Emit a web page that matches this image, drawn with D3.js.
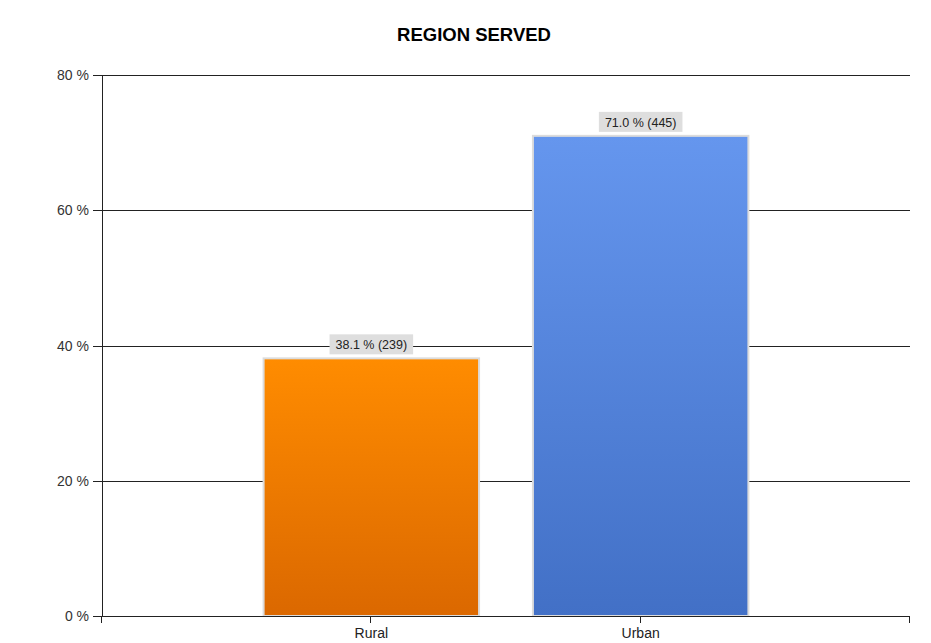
<!DOCTYPE html>
<html>
<head>
<meta charset="utf-8">
<script src="https://cdn.jsdelivr.net/npm/d3@7"></script>
<style>
  body { margin: 0; background: #fff; }
  text { font-family: "Liberation Sans", Arial, sans-serif; }
</style>
</head>
<body>
<div id="chart"></div>
<script>
// chart data
var categories = ["Rural", "Urban"];
var percents = [38.1, 71.0];
var counts = [239, 445];
var yTicks = [0, 20, 40, 60, 80];
var barColors = [["#ff8c00", "#db6800"], ["#6596ee", "#4270c6"]];

var W = 931, H = 643;
var margin = {top: 75, right: 21, bottom: 27, left: 102},
    width = W - margin.left - margin.right,
    height = H - margin.top - margin.bottom;

var svg = d3.select("#chart").append("svg")
    .attr("width", W).attr("height", H);

var defs = svg.append("defs");
barColors.forEach(function(c, i) {
  var g = defs.append("linearGradient").attr("id", "grad" + i)
    .attr("x1", 0).attr("y1", 0).attr("x2", 0).attr("y2", 1);
  g.append("stop").attr("offset", "0%").attr("stop-color", c[0]);
  g.append("stop").attr("offset", "100%").attr("stop-color", c[1]);
});

svg.append("text")
    .attr("x", 474).attr("y", 41)
    .attr("text-anchor", "middle")
    .style("font-size", "18.5px").style("font-weight", "bold")
    .text("REGION SERVED");

var plot = svg.append("g")
    .attr("transform", "translate(" + margin.left + "," + margin.top + ")");

// positions: categories sit at 1, 2 on a 0..3 axis
var x = d3.scaleLinear().domain([0, categories.length + 1]).range([0, width]);
var y = d3.scaleLinear().domain([0, 80]).range([height, 0]);
var bw = (x(1) - x(0)) * 0.8;

// gridlines
plot.selectAll(".grid").data(yTicks).enter().append("line")
    .attr("x1", -9).attr("x2", width)
    .attr("y1", function(d) { return Math.round(y(d)) + 0.5; })
    .attr("y2", function(d) { return Math.round(y(d)) + 0.5; })
    .attr("stroke", "#222").attr("stroke-width", 1);

// y labels
plot.selectAll(".ylab").data(yTicks).enter().append("text")
    .attr("x", -13).attr("y", function(d) { return y(d) + 5; })
    .attr("text-anchor", "end")
    .style("font-size", "14px").attr("fill", "#333")
    .text(function(d) { return d + " %"; });

// bars
plot.selectAll(".bar").data(percents).enter().append("rect")
    .attr("x", function(d, i) { return x(i + 1) - bw / 2; })
    .attr("y", function(d) { return y(d); })
    .attr("width", bw)
    .attr("height", function(d) { return height - y(d); })
    .attr("fill", function(d, i) { return "url(#grad" + i + ")"; })
    .attr("stroke", "#dcdcdc").attr("stroke-width", 2);

// value labels
percents.forEach(function(d, i) {
  var cx = x(i + 1);
  var lbl = d.toFixed(1) + " % (" + counts[i] + ")";
  var t = plot.append("text")
      .attr("x", cx).attr("y", y(d) - 9)
      .attr("text-anchor", "middle")
      .style("font-size", "12.5px").attr("fill", "#222")
      .text(lbl);
  var bb = t.node().getBBox();
  plot.insert("rect", "text")
      .attr("x", bb.x - 6).attr("y", y(d) - 24)
      .attr("width", bb.width + 12).attr("height", 20)
      .attr("fill", "#dedede");
});

// axes lines
plot.append("line")
    .attr("x1", 0.5).attr("x2", 0.5).attr("y1", 0).attr("y2", height + 1)
    .attr("stroke", "#222");
plot.append("line")
    .attr("x1", 0).attr("x2", width).attr("y1", height + 0.5).attr("y2", height + 0.5)
    .attr("stroke", "#222");

// x ticks and labels
var xTicks = d3.range(0, categories.length + 2);
plot.selectAll(".xt").data(xTicks).enter().append("line")
    .attr("x1", function(d) { return Math.round(x(d)) - 0.5; })
    .attr("x2", function(d) { return Math.round(x(d)) - 0.5; })
    .attr("y1", height).attr("y2", height + 7)
    .attr("stroke", "#222");
plot.selectAll(".xl").data(categories).enter().append("text")
    .attr("x", function(d, i) { return x(i + 1); })
    .attr("y", height + 22)
    .attr("text-anchor", "middle")
    .style("font-size", "14px").attr("fill", "#222")
    .text(function(d) { return d; });
</script>
</body>
</html>
